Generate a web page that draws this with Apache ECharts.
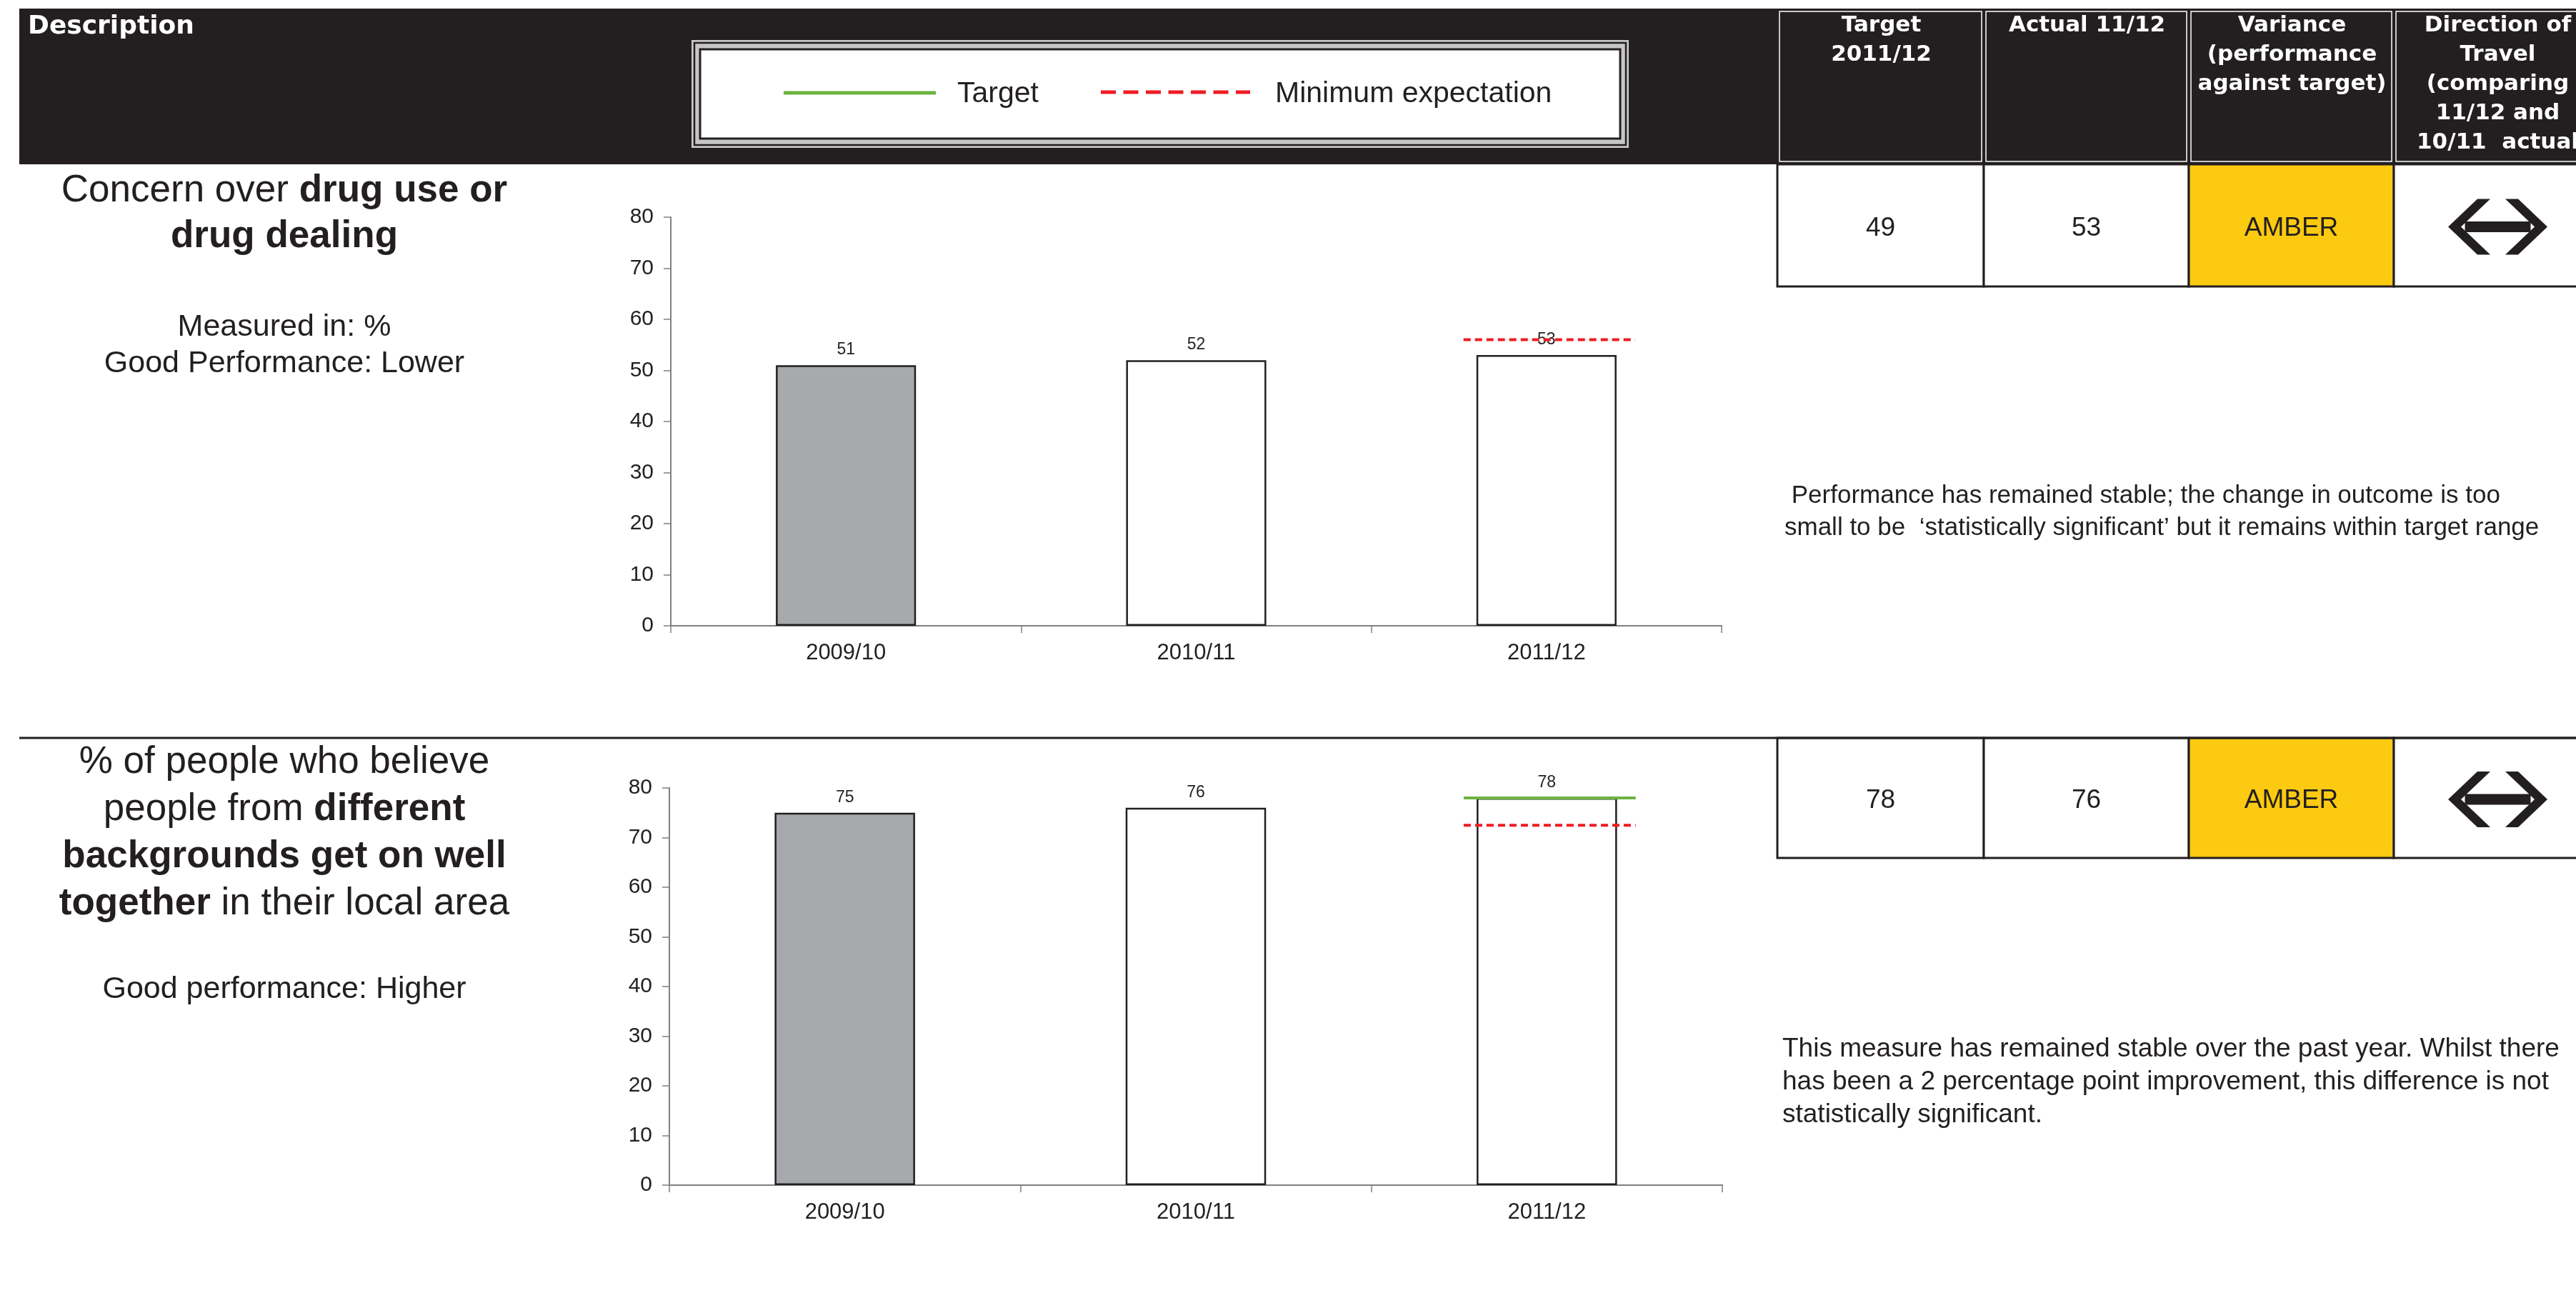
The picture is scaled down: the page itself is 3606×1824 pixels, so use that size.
<!DOCTYPE html>
<html>
<head>
<meta charset="utf-8">
<script src="https://cdn.jsdelivr.net/npm/echarts@6/dist/echarts.min.js"></script>
<style>
html, body { margin: 0; padding: 0; background: #ffffff; }
#chart { width: 3606px; height: 1824px; }
</style>
</head>
<body>
<div id="chart"></div>
<script>
// Survey years on both bar charts
const years = ['2009/10', '2010/11', '2011/12'];

// Concern over drug use or drug dealing (%)
const drugValues = [51, 52, 53];
const drugMinExpectation = [[2, 56]];

// People from different backgrounds get on well together (%)
const cohesionValues = [75, 76, 78];
const cohesionTarget = [[2, 78]];
const cohesionMinExpectation = [[2, 72.5]];

// Value axis range
const axisMax = 80;
const axisStep = 10;

// Scorecard table
const tableHeaders = [
  'Target\n2011/12',
  'Actual 11/12',
  'Variance\n(performance\nagainst target)',
  'Direction of\nTravel\n(comparing\n11/12 and\n10/11  actual'
];
const drugScore = ['49', '53', 'AMBER'];
const cohesionScore = ['78', '76', 'AMBER'];

// Commentary
const drugComment = [
  ' Performance has remained stable; the change in outcome is too',
  'small to be  \u2018statistically significant\u2019 but it remains within target range'
];
const cohesionComment = [
  'This measure has remained stable over the past year. Whilst there',
  'has been a 2 percentage point improvement, this difference is not',
  'statistically significant.'
];

// ---- styling ----
const INK = '#231f20';
const GREY_BAR = '#a7a9ac';
const AMBER = '#fcca10';
const GREEN = '#6cb33f';
const RED = '#ed1c24';
const AXIS = '#808080';
const SANS = '"Liberation Sans", Arial, sans-serif';
const HEAD = '"DejaVu Sans", Verdana, sans-serif';

// table column edges
const cols = [2488, 2777, 3064, 3351, 3640];

const graphics = [];

// black header band
graphics.push({ type: 'rect', shape: { x: 27, y: 12, width: 3606 - 27, height: 218 }, style: { fill: INK } });
graphics.push({ type: 'text', x: 39, y: 38, style: { text: 'Description', fill: '#ffffff', fontFamily: HEAD, fontWeight: 'bold', fontSize: 36, align: 'left', verticalAlign: 'middle' } });

// header cells of the scorecard
for (let i = 0; i < 4; i++) {
  graphics.push({ type: 'rect', shape: { x: cols[i] + 3, y: 16, width: cols[i + 1] - cols[i] - 6, height: 210 }, style: { fill: INK, stroke: '#ffffff', lineWidth: 1.5 } });
  graphics.push({ type: 'text', x: (cols[i] + cols[i + 1]) / 2 + 1, y: 15, style: { text: tableHeaders[i], fill: '#ffffff', fontFamily: HEAD, fontWeight: 'bold', fontSize: 31, lineHeight: 41, align: 'center', verticalAlign: 'top' } });
}

// legend box
graphics.push({ type: 'rect', shape: { x: 968, y: 56, width: 1312, height: 151 }, style: { fill: '#c6c6c6' } });
graphics.push({ type: 'rect', shape: { x: 972, y: 60, width: 1304, height: 143 }, style: { fill: 'none', stroke: INK, lineWidth: 2.5 } });
graphics.push({ type: 'rect', shape: { x: 980, y: 69, width: 1288, height: 125 }, style: { fill: '#ffffff', stroke: INK, lineWidth: 3 } });
graphics.push({ type: 'line', shape: { x1: 1097, y1: 130, x2: 1310, y2: 130 }, style: { stroke: GREEN, lineWidth: 5 } });
graphics.push({ type: 'text', x: 1340, y: 132, style: { text: 'Target', fill: INK, fontFamily: SANS, fontSize: 41, align: 'left', verticalAlign: 'middle' } });
graphics.push({ type: 'line', shape: { x1: 1541, y1: 129, x2: 1750, y2: 129 }, style: { stroke: RED, lineWidth: 5, lineDash: [21, 10.5] } });
graphics.push({ type: 'text', x: 1785, y: 132, style: { text: 'Minimum expectation', fill: INK, fontFamily: SANS, fontSize: 41, align: 'left', verticalAlign: 'middle' } });

// scorecard rows
function scoreRow(top, bottom, values) {
  const cy = (top + bottom) / 2 + 4;
  for (let i = 0; i < 4; i++) {
    graphics.push({ type: 'rect', shape: { x: cols[i], y: top, width: cols[i + 1] - cols[i], height: bottom - top }, style: { fill: i === 2 ? AMBER : '#ffffff', stroke: INK, lineWidth: 3 } });
  }
  for (let i = 0; i < 3; i++) {
    graphics.push({ type: 'text', x: (cols[i] + cols[i + 1]) / 2, y: cy, style: { text: values[i], fill: INK, fontFamily: SANS, fontSize: 37, align: 'center', verticalAlign: 'middle' } });
  }
  // two-headed "no change" arrow
  const ax = 3496.5;
  graphics.push({ type: 'group', x: ax, y: cy - 2, children: [
    { type: 'polygon', shape: { points: [[-28.5, -39], [-10.5, -39], [-51.5, 0], [-10.5, 39], [-28.5, 39], [-69.5, 0]] }, style: { fill: INK } },
    { type: 'polygon', shape: { points: [[28.5, -39], [10.5, -39], [51.5, 0], [10.5, 39], [28.5, 39], [69.5, 0]] }, style: { fill: INK } },
    { type: 'rect', shape: { x: -46, y: -7.5, width: 92, height: 15 }, style: { fill: INK } }
  ] });
}
scoreRow(230, 401, drugScore);
scoreRow(1033, 1201, cohesionScore);

// divider between the two measures
graphics.push({ type: 'line', shape: { x1: 27, y1: 1033, x2: 3606, y2: 1033 }, style: { stroke: INK, lineWidth: 3 } });

// commentary
graphics.push({ type: 'text', x: 2498, y: 694 - 22.5, style: { text: drugComment.join('\n'), fill: INK, fontFamily: SANS, fontSize: 35, lineHeight: 45, align: 'left', verticalAlign: 'top' } });
graphics.push({ type: 'text', x: 2495, y: 1469 - 23, style: { text: cohesionComment.join('\n'), fill: INK, fontFamily: SANS, fontSize: 37, lineHeight: 46, align: 'left', verticalAlign: 'top' } });

// measure descriptions
const titleRich = {
  n: { fontFamily: SANS, fontSize: 53, fill: INK, lineHeight: 64 },
  b: { fontFamily: SANS, fontSize: 53, fill: INK, fontWeight: 'bold', lineHeight: 64 }
};
graphics.push({ type: 'text', x: 398, y: 235, style: { text: '{n|Concern over }{b|drug use or}\n{b|drug dealing}', rich: titleRich, align: 'center', verticalAlign: 'top' } });
graphics.push({ type: 'text', x: 398, y: 433, style: { text: 'Measured in: %\nGood Performance: Lower', fill: INK, fontFamily: SANS, fontSize: 43, lineHeight: 51, align: 'center', verticalAlign: 'top' } });

const titleRich2 = {
  n: { fontFamily: SANS, fontSize: 53, fill: INK, lineHeight: 66 },
  b: { fontFamily: SANS, fontSize: 53, fill: INK, fontWeight: 'bold', lineHeight: 66 }
};
graphics.push({ type: 'text', x: 398, y: 1034, style: { text: '{n|% of people who believe}\n{n|people from }{b|different}\n{b|backgrounds get on well}\n{b|together}{n| in their local area}', rich: titleRich2, align: 'center', verticalAlign: 'top' } });
graphics.push({ type: 'text', x: 398, y: 1385, style: { text: 'Good performance: Higher', fill: INK, fontFamily: SANS, fontSize: 43, align: 'center', verticalAlign: 'middle' } });

// horizontal marker spanning most of a category band
function bandLine(color, dash) {
  return function (params, api) {
    const p = api.coord([api.value(0), api.value(1)]);
    const half = api.size([1, 0])[0] * 0.245;
    return {
      type: 'line',
      shape: { x1: p[0] - half + 4, y1: p[1], x2: p[0] + half + 4, y2: p[1] },
      style: { stroke: color, lineWidth: 4, lineDash: dash }
    };
  };
}

function xAxisFor(gridIndex) {
  return {
    type: 'category', gridIndex: gridIndex, data: years,
    axisLine: { show: true, lineStyle: { color: AXIS, width: 2 } },
    axisTick: { show: true, alignWithLabel: false, length: 10, lineStyle: { color: AXIS, width: 1.5 } },
    axisLabel: { fontFamily: SANS, fontSize: 31, color: INK, margin: 23 }
  };
}
function yAxisFor(gridIndex) {
  return {
    type: 'value', gridIndex: gridIndex, min: 0, max: axisMax, interval: axisStep,
    splitLine: { show: false },
    axisLine: { show: true, lineStyle: { color: AXIS, width: 2 } },
    axisTick: { show: true, inside: false, length: 10, lineStyle: { color: AXIS, width: 1.5 } },
    axisLabel: { fontFamily: SANS, fontSize: 30, color: INK, margin: 24 }
  };
}
function barSeries(idx, values) {
  return {
    type: 'bar', xAxisIndex: idx, yAxisIndex: idx, data: values, barWidth: '40%',
    itemStyle: {
      color: function (p) { return p.dataIndex === 0 ? GREY_BAR : '#ffffff'; },
      borderColor: INK, borderWidth: 2.5
    },
    label: { show: true, position: 'top', distance: 10, fontFamily: SANS, fontSize: 23, color: INK }
  };
}
function markerSeries(idx, data, color, dash) {
  return {
    type: 'custom', xAxisIndex: idx, yAxisIndex: idx, data: data, z: 3,
    encode: { x: 0, y: 1 },
    renderItem: bandLine(color, dash)
  };
}

const chart = echarts.init(document.getElementById('chart'), null, { renderer: 'canvas' });
chart.setOption({
  animation: false,
  backgroundColor: '#ffffff',
  grid: [
    { left: 939, top: 304, width: 1471, height: 572 },
    { left: 937, top: 1103, width: 1474, height: 556 }
  ],
  xAxis: [xAxisFor(0), xAxisFor(1)],
  yAxis: [yAxisFor(0), yAxisFor(1)],
  series: [
    barSeries(0, drugValues),
    markerSeries(0, drugMinExpectation, RED, [10, 6]),
    barSeries(1, cohesionValues),
    markerSeries(1, cohesionTarget, GREEN, null),
    markerSeries(1, cohesionMinExpectation, RED, [10, 6])
  ],
  graphic: graphics
});
</script>
</body>
</html>
